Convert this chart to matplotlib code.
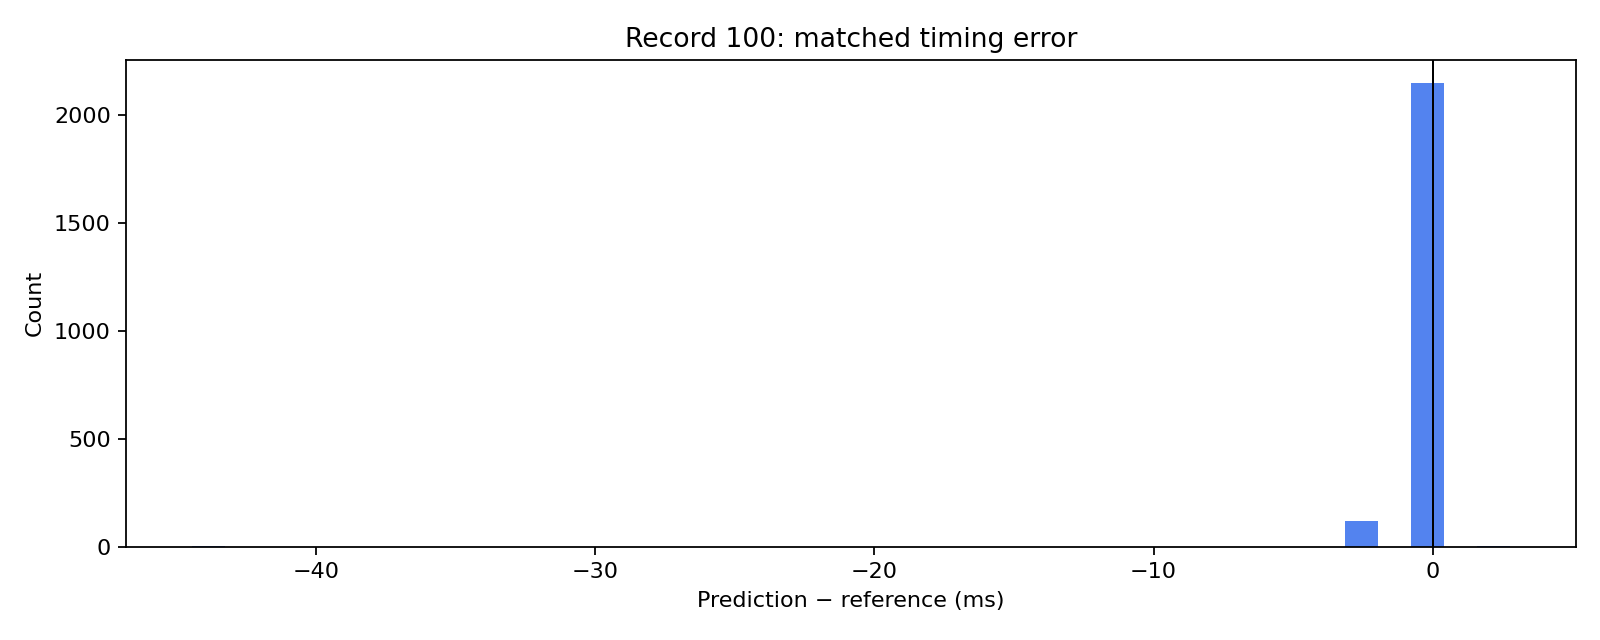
import numpy as np
import matplotlib.pyplot as plt

# timing error, in samples at 360 Hz, and how many beats had it
FS = 360.0
offset_samples = [-16, -1, 0, 1]
offset_counts = [1, 119, 2146, 3]

errors_ms = np.repeat(np.array(offset_samples) * 1000.0 / FS, offset_counts)

fig, ax = plt.subplots(figsize=(10, 4), dpi=160)
fig.subplots_adjust(left=0.079, right=0.985, top=0.906, bottom=0.146)

ax.hist(errors_ms, bins=40, color="#5383ef")
ax.axvline(0, color="black", linewidth=0.9)

ax.set_title("Record 100: matched timing error")
ax.set_xlabel("Prediction \u2212 reference (ms)")
ax.set_ylabel("Count")

fig.savefig("out.png")
